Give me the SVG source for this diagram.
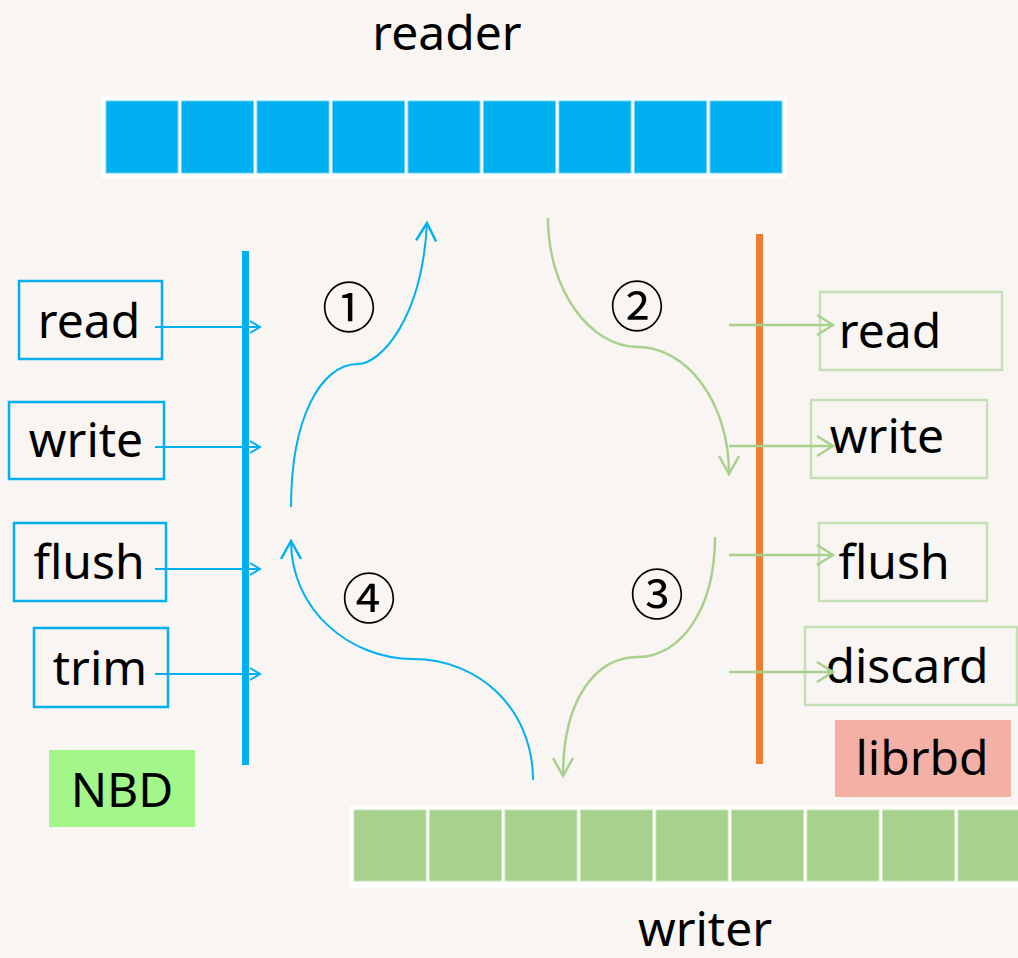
<svg xmlns="http://www.w3.org/2000/svg" width="1018" height="958" viewBox="0 0 1018 958">
<style>
.t{font-family:"Noto Sans","Open Sans",sans-serif;font-size:48px;fill:#000;text-anchor:middle}
.n{font-family:"Noto Sans CJK SC","Noto Sans",sans-serif;font-size:54px;fill:#000;text-anchor:middle}
.bb{fill:none;stroke:#00b0f0;stroke-width:2.5}
.gb{fill:none;stroke:#c5e0b4;stroke-width:2.5}
.bc{fill:#00b0f0;stroke:#6fd2f6;stroke-width:1}
.gc{fill:#a9d18e;stroke:#c8e4b6;stroke-width:1}
.bl{fill:none;stroke:#00b0f0;stroke-width:2}
.gl{fill:none;stroke:#a9d18e;stroke-width:2.5}
</style>
<defs>
<marker id="ab" markerUnits="userSpaceOnUse" markerWidth="30" markerHeight="30" viewBox="-15 -15 30 30" refX="0" refY="0" orient="auto">
<path d="M-10,-6 L0,0 L-10,6" fill="none" stroke="#00b0f0" stroke-width="2"/>
</marker>
<marker id="abig" markerUnits="userSpaceOnUse" markerWidth="40" markerHeight="40" viewBox="-20 -20 40 40" refX="0" refY="0" orient="auto">
<path d="M-18,-10 L0,0 L-18,10" fill="none" stroke="#00b0f0" stroke-width="2.5"/>
</marker>
<marker id="ag" markerUnits="userSpaceOnUse" markerWidth="40" markerHeight="40" viewBox="-20 -20 40 40" refX="0" refY="0" orient="auto">
<path d="M-16,-10 L0,0 L-16,10" fill="none" stroke="#a9d18e" stroke-width="2.5"/>
</marker>
<marker id="agbig" markerUnits="userSpaceOnUse" markerWidth="40" markerHeight="40" viewBox="-20 -20 40 40" refX="0" refY="0" orient="auto">
<path d="M-18,-10 L0,0 L-18,10" fill="none" stroke="#a9d18e" stroke-width="2.5"/>
</marker>
</defs>
<rect width="1018" height="958" fill="#f8f5f3"/>

<g id="reader">
<text class="t" x="447" y="50">reader</text>
<rect x="102" y="97" width="684" height="81" fill="#fff"/>
<rect class="bc" x="106" y="101" width="72" height="72"/>
<rect class="bc" x="181.5" y="101" width="72" height="72"/>
<rect class="bc" x="257" y="101" width="72" height="72"/>
<rect class="bc" x="332.5" y="101" width="72" height="72"/>
<rect class="bc" x="408" y="101" width="72" height="72"/>
<rect class="bc" x="483.5" y="101" width="72" height="72"/>
<rect class="bc" x="559" y="101" width="72" height="72"/>
<rect class="bc" x="634.5" y="101" width="72" height="72"/>
<rect class="bc" x="710" y="101" width="72" height="72"/>
</g>

<g id="writer">
<rect x="350" y="806" width="680" height="82" fill="#fff"/>
<rect class="gc" x="354" y="810" width="72" height="71"/>
<rect class="gc" x="429.5" y="810" width="72" height="71"/>
<rect class="gc" x="505" y="810" width="72" height="71"/>
<rect class="gc" x="580.5" y="810" width="72" height="71"/>
<rect class="gc" x="656" y="810" width="72" height="71"/>
<rect class="gc" x="731.5" y="810" width="72" height="71"/>
<rect class="gc" x="807" y="810" width="72" height="71"/>
<rect class="gc" x="882.5" y="810" width="72" height="71"/>
<rect class="gc" x="958" y="810" width="72" height="71"/>
<text class="t" x="705" y="946">writer</text>
</g>

<g id="nbd-bar"><rect x="242" y="251" width="7" height="514" fill="#00b0f0"/></g>
<g id="librbd-bar"><rect x="756" y="234" width="7" height="530" fill="#ed7d31"/></g>

<g id="l-read"><rect class="bb" x="19" y="281" width="143" height="78"/><text class="t" x="89" y="338">read</text></g>
<g id="l-write"><rect class="bb" x="9" y="402" width="155" height="77"/><text class="t" x="86" y="457">write</text></g>
<g id="l-flush"><rect class="bb" x="14" y="523" width="152" height="78"/><text class="t" x="89" y="579">flush</text></g>
<g id="l-trim"><rect class="bb" x="34" y="628" width="134" height="79"/><text class="t" x="100" y="685">trim</text></g>
<g id="nbd"><rect x="49" y="750" width="146" height="77" fill="#a3f78a"/><text class="t" x="122" y="807">NBD</text></g>

<g id="r-read"><rect class="gb" x="820" y="292" width="182" height="78"/><text class="t" x="890" y="348">read</text></g>
<g id="r-write"><rect class="gb" x="811" y="400" width="176" height="78"/><text class="t" x="887" y="453">write</text></g>
<g id="r-flush"><rect class="gb" x="819" y="523" width="168" height="78"/><text class="t" x="894" y="579">flush</text></g>
<g id="r-discard"><rect class="gb" x="805" y="627" width="212" height="78"/><text class="t" x="907" y="683">discard</text></g>
<g id="librbd"><rect x="835" y="720" width="176" height="77" fill="#f4b0a4"/><text class="t" x="922" y="775">librbd</text></g>

<g id="connectors">
<line class="bl" x1="155" y1="327" x2="260" y2="327" marker-end="url(#ab)"/>
<line class="bl" x1="155" y1="447" x2="260" y2="447" marker-end="url(#ab)"/>
<line class="bl" x1="155" y1="569" x2="260" y2="569" marker-end="url(#ab)"/>
<line class="bl" x1="155" y1="674" x2="260" y2="674" marker-end="url(#ab)"/>
<line class="gl" x1="729" y1="325" x2="833" y2="325" marker-end="url(#ag)"/>
<line class="gl" x1="729" y1="446" x2="833" y2="446" marker-end="url(#ag)"/>
<line class="gl" x1="729" y1="555" x2="833" y2="555" marker-end="url(#ag)"/>
<line class="gl" x1="729" y1="672" x2="833" y2="672" marker-end="url(#ag)"/>
<path class="bl" stroke-width="2.5" d="M291,507 C291,420 320,364 358,364 C380,364 422,320 427,223" marker-end="url(#abig)"/>
<path class="gl" d="M548,218 C548,290 590,347 638,347 C685,347 729,400 729,474" marker-end="url(#agbig)"/>
<path class="gl" d="M715,537 C715,610 680,657 638,657 C595,657 563,700 563,776" marker-end="url(#agbig)"/>
<path class="bl" stroke-width="2.5" d="M533,780 C533,710 480,659 413,659 C350,659 291,610 291,541" marker-end="url(#abig)"/>
</g>

<g id="labels">
<text class="n" x="349" y="328">①</text>
<text class="n" x="637" y="327">②</text>
<text class="n" x="657" y="615">③</text>
<text class="n" x="369" y="619">④</text>
</g>
</svg>
